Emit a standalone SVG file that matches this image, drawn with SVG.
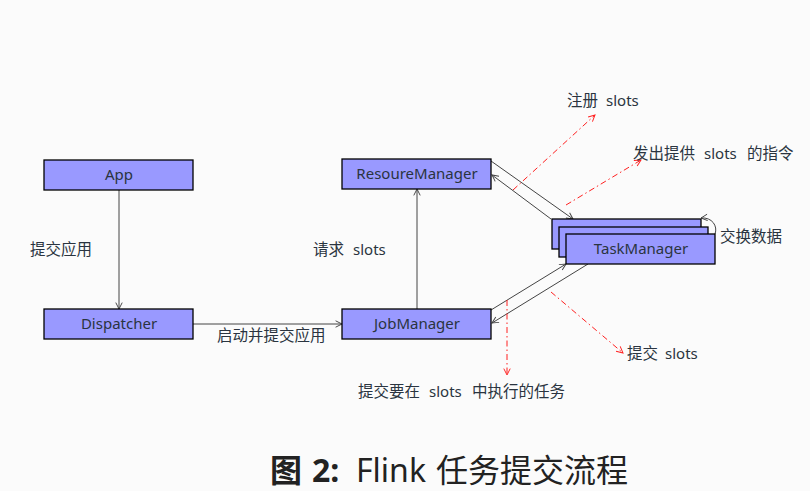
<svg xmlns="http://www.w3.org/2000/svg" width="810" height="491" viewBox="0 0 810 491">
<style>
.node rect{fill:#9999ff;stroke:#000;stroke-width:1.3}
.t{font-family:"Noto Sans","Noto Sans CJK SC",sans-serif;font-size:15.5px;fill:#2a3440}
.n{font-size:15px}
.c{text-anchor:middle}
.e{fill:none;stroke:#444;stroke-width:1}
.r{fill:none;stroke:#ff2020;stroke-width:1;stroke-dasharray:6 3 1.5 3}
</style>
<defs>
<marker id="a" viewBox="0 0 10 10" refX="9" refY="5" markerWidth="8" markerHeight="8" orient="auto" markerUnits="userSpaceOnUse"><path d="M1,1 L9,5 L1,9" fill="none" stroke="#444" stroke-width="1.2"/></marker>
<marker id="ar" viewBox="0 0 10 10" refX="9" refY="5" markerWidth="8" markerHeight="8" orient="auto" markerUnits="userSpaceOnUse"><path d="M1,1 L9,5 L1,9" fill="none" stroke="#ff2020" stroke-width="1.2"/></marker>
</defs>
<rect width="810" height="491" fill="#fbfbfb"/>
<g id="connectors">
<line class="e" x1="119" y1="190" x2="119" y2="309" marker-end="url(#a)"/>
<line class="e" x1="193" y1="324" x2="342" y2="324" marker-end="url(#a)"/>
<line class="e" x1="417" y1="309" x2="417" y2="189" marker-end="url(#a)"/>
<line class="e" x1="491" y1="161" x2="573" y2="219" marker-end="url(#a)"/>
<line class="e" x1="551" y1="219" x2="492" y2="175" marker-end="url(#a)"/>
<line class="e" x1="491" y1="310" x2="566" y2="264" marker-end="url(#a)"/>
<line class="e" x1="588" y1="264" x2="492" y2="323" marker-end="url(#a)"/>
<path class="e" d="M715,234 C718,226 712,217 701,218" marker-end="url(#a)"/>
<line class="r" x1="513" y1="190" x2="595" y2="115" marker-end="url(#ar)"/>
<line class="r" x1="566" y1="205" x2="641" y2="160" marker-end="url(#ar)"/>
<line class="r" x1="507" y1="300" x2="507" y2="375" marker-end="url(#ar)"/>
<line class="r" x1="551" y1="292" x2="623" y2="353" marker-end="url(#ar)"/>
</g>
<g id="App" class="node"><rect x="44" y="160" width="149" height="30"/><text class="t n c" x="119" y="180">App</text></g>
<g id="Dispatcher" class="node"><rect x="44" y="309" width="149" height="30"/><text class="t n c" x="119" y="329">Dispatcher</text></g>
<g id="ResoureManager" class="node"><rect x="342" y="159" width="149" height="30"/><text class="t n c" x="417" y="179">ResoureManager</text></g>
<g id="JobManager" class="node"><rect x="342" y="309" width="149" height="30"/><text class="t n c" x="417" y="329">JobManager</text></g>
<g id="TaskManager" class="node">
<rect x="552" y="219" width="149" height="30"/>
<rect x="559" y="227" width="149" height="30"/>
<rect x="566" y="234" width="149" height="30"/>
<text class="t n c" x="641" y="254">TaskManager</text>
</g>
<g id="labels">
<text class="t" x="30" y="255">提交应用</text>
<text class="t" y="255"><tspan x="313">请求</tspan><tspan x="353" class="n">slots</tspan></text>
<text class="t" x="217" y="341">启动并提交应用</text>
<text class="t" y="106"><tspan x="567">注册</tspan><tspan x="606" class="n">slots</tspan></text>
<text class="t" y="159"><tspan x="633">发出提供</tspan><tspan x="704" class="n">slots</tspan><tspan x="747">的指令</tspan></text>
<text class="t" x="720" y="242">交换数据</text>
<text class="t" y="359"><tspan x="627">提交</tspan><tspan x="665" class="n">slots</tspan></text>
<text class="t" y="397"><tspan x="358">提交要在</tspan><tspan x="429" class="n">slots</tspan><tspan x="472">中执行的任务</tspan></text>
<text y="482" style="font-family:'Noto Sans','Noto Sans CJK SC',sans-serif;font-size:32px;fill:#222"><tspan x="270" font-weight="bold">图</tspan><tspan x="312" font-weight="bold">2:</tspan><tspan x="356">Flink</tspan><tspan x="436">任务提交流程</tspan></text>
</g>
</svg>
